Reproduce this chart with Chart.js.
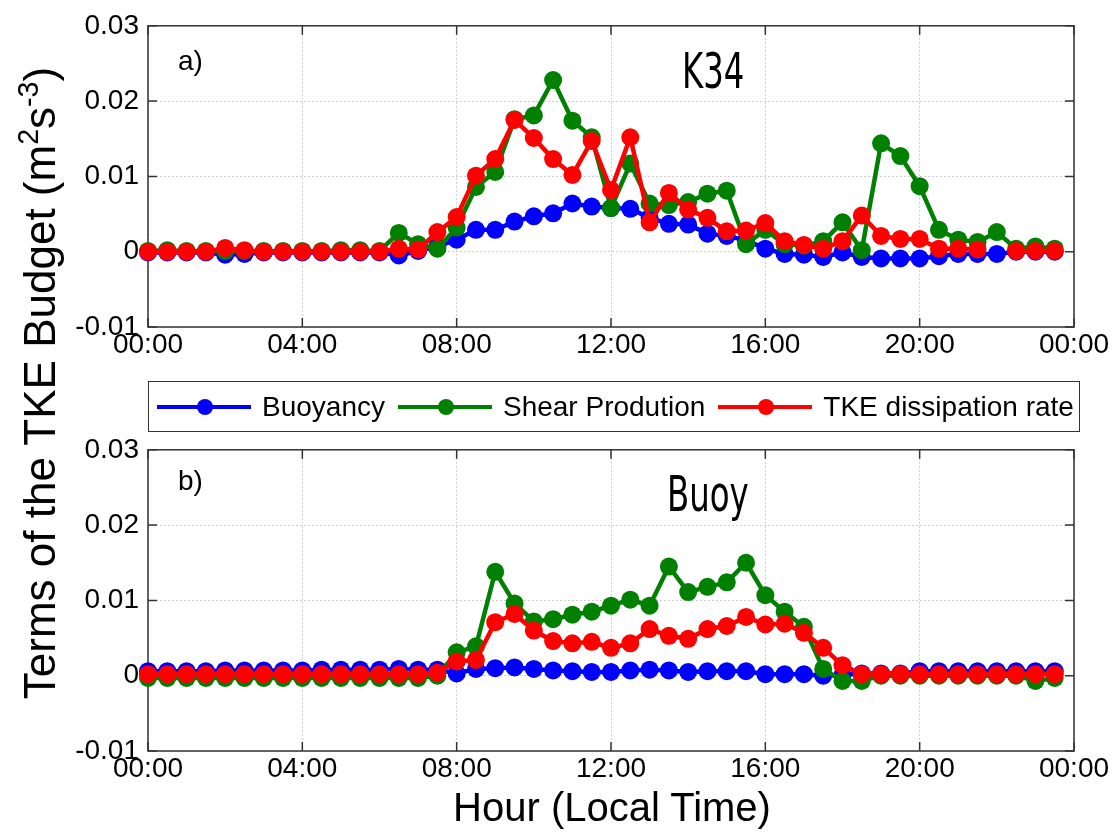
<!DOCTYPE html>
<html>
<head>
<meta charset="utf-8">
<script src="https://cdn.jsdelivr.net/npm/chart.js@4/dist/chart.umd.min.js"></script>
<style>
  body { margin: 0; background: #fff; }
  #page { position: relative; width: 1119px; height: 837px; overflow: hidden; background: #fff; font-family: "Liberation Sans", Arial, sans-serif; color: #000; }
  .wrap { position: absolute; left: 0; width: 1119px; height: 370px; }
  .tag { position: absolute; font-size: 28px; line-height: 28px; }
  .site { position: absolute; font-family: "Liberation Sans Narrow", "DejaVu Sans Condensed", "Liberation Sans", sans-serif; font-size: 50px; line-height: 50px; transform-origin: left top; transform: scaleX(0.72); }
  #ytitle { position: absolute; left: -310px; top: 358px; width: 700px; height: 50px; line-height: 50px; text-align: center; font-size: 44px; transform: rotate(-90deg); white-space: nowrap; }
  #ytitle sup { font-size: 0.65em; vertical-align: 0.6em; line-height: 0; }
  #xtitle { position: absolute; left: 302px; top: 784px; width: 620px; text-align: center; font-size: 40px; line-height: 46px; }
  #legend { position: absolute; left: 148px; top: 381px; width: 932px; height: 51px; border: 1.5px solid #333; box-sizing: border-box; display: flex; align-items: center; font-size: 28px; }
  .item { display: flex; align-items: center; margin-left: 13px; }
  .item:first-child { margin-left: 8px; }
  .sample { position: relative; width: 94px; height: 4px; margin-right: 11px; }
  .sample i { position: absolute; left: 40px; top: -6px; width: 16px; height: 16px; border-radius: 50%; }
</style>
</head>
<body>
<div id="page">
  <div class="wrap" style="top:0"><canvas id="chartA" width="1119" height="370"></canvas></div>
  <div class="wrap" style="top:424px"><canvas id="chartB" width="1119" height="370"></canvas></div>

  <div class="tag" style="left:178px;top:47px">a)</div>
  <div class="site" style="left:682px;top:46px">K34</div>
  <div class="tag" style="left:178px;top:467px">b)</div>
  <div class="site" style="left:667px;top:469px">Buoy</div>

  <div id="legend">
    <div class="item"><span class="sample" style="background:#0000ff"><i style="background:#0000ff"></i></span>Buoyancy</div>
    <div class="item"><span class="sample" style="background:#008000"><i style="background:#008000"></i></span>Shear Prodution</div>
    <div class="item"><span class="sample" style="background:#ff0000"><i style="background:#ff0000"></i></span>TKE dissipation rate</div>
  </div>

  <div id="ytitle">Terms of the TKE Budget (m<sup>2</sup>s<sup>-3</sup>)</div>
  <div id="xtitle">Hour (Local Time)</div>
</div>

<script>
const hours = [0, 0.5, 1, 1.5, 2, 2.5, 3, 3.5, 4, 4.5, 5, 5.5, 6, 6.5, 7, 7.5,
    8, 8.5, 9, 9.5, 10, 10.5, 11, 11.5, 12, 12.5, 13, 13.5, 14, 14.5, 15, 15.5,
    16, 16.5, 17, 17.5, 18, 18.5, 19, 19.5, 20, 20.5, 21, 21.5, 22, 22.5, 23, 23.5]

const xTickLabels = ['00:00', '04:00', '08:00', '12:00', '16:00', '20:00', '00:00']
const yTickLabels = ['-0.01', '0', '0.01', '0.02', '0.03']

// a) K34
const buoyancyK34 = [-0.0001, -0.0001, -0.0001, -0.0001, -0.0004, -0.0003, -0.0001, -0.0001,
    -0.0001, -0.0001, -0.0001, -0.0001, -0.0001, -0.0005, 0.0001, 0.0007,
    0.0016, 0.0029, 0.0029, 0.0040, 0.0047, 0.0051, 0.0064, 0.0060,
    0.0058, 0.0057, 0.0045, 0.0037, 0.0036, 0.0024, 0.0021, 0.0015,
    0.0004, -0.0003, -0.0004, -0.0007, -0.0001, -0.0007, -0.0009, -0.0009,
    -0.0009, -0.0006, -0.0003, -0.0003, -0.0003, 0.0000, 0.0000, 0.0000]
const shearK34 = [0.0001, 0.0002, 0.0001, 0.0001, 0.0001, 0.0001, 0.0001, 0.0001,
    0.0001, 0.0001, 0.0002, 0.0002, 0.0001, 0.0025, 0.0010, 0.0004,
    0.0032, 0.0086, 0.0106, 0.0176, 0.0181, 0.0228, 0.0174, 0.0152,
    0.0058, 0.0117, 0.0064, 0.0062, 0.0066, 0.0077, 0.0081, 0.0010,
    0.0029, 0.0010, 0.0008, 0.0014, 0.0039, 0.0002, 0.0144, 0.0127,
    0.0087, 0.0029, 0.0016, 0.0013, 0.0026, 0.0004, 0.0007, 0.0004]
const dissipationK34 = [0.0000, 0.0000, 0.0000, 0.0000, 0.0005, 0.0002, 0.0000, 0.0000,
    0.0000, 0.0000, 0.0000, 0.0000, 0.0000, 0.0004, 0.0003, 0.0026,
    0.0046, 0.0101, 0.0123, 0.0175, 0.0151, 0.0123, 0.0102, 0.0147,
    0.0082, 0.0152, 0.0039, 0.0078, 0.0056, 0.0045, 0.0027, 0.0028,
    0.0038, 0.0014, 0.0009, 0.0004, 0.0014, 0.0048, 0.0021, 0.0017,
    0.0017, 0.0004, 0.0004, 0.0003, null, 0.0001, 0.0001, 0.0001]

// b) Buoy
const buoyancyBuoy = [0.0006, 0.0006, 0.0006, 0.0006, 0.0007, 0.0007, 0.0007, 0.0007,
    0.0007, 0.0008, 0.0008, 0.0008, 0.0008, 0.0009, 0.0008, 0.0008,
    0.0003, 0.0009, 0.0010, 0.0011, 0.0009, 0.0007, 0.0006, 0.0005,
    0.0005, 0.0007, 0.0008, 0.0007, 0.0005, 0.0006, 0.0006, 0.0006,
    0.0002, 0.0002, 0.0002, 0.0000, 0.0001, 0.0003, 0.0003, 0.0003,
    0.0006, 0.0006, 0.0006, 0.0006, 0.0006, 0.0006, 0.0006, 0.0006]
const shearBuoy = [-0.0003, -0.0003, -0.0003, -0.0003, -0.0003, -0.0003, -0.0003, -0.0003,
    -0.0003, -0.0003, -0.0003, -0.0003, -0.0003, -0.0003, -0.0003, 0.0000,
    0.0031, 0.0039, 0.0138, 0.0096, 0.0072, 0.0075, 0.0081, 0.0085,
    0.0093, 0.0101, 0.0093, 0.0145, 0.0111, 0.0118, 0.0124, 0.0150,
    0.0107, 0.0085, 0.0065, 0.0009, -0.0007, -0.0007, 0.0000, 0.0000,
    0.0000, 0.0000, 0.0000, 0.0000, 0.0000, 0.0000, -0.0007, -0.0003]
const dissipationBuoy = [0.0002, 0.0002, 0.0002, 0.0002, 0.0002, 0.0002, 0.0002, 0.0002,
    0.0002, 0.0002, 0.0002, 0.0002, 0.0002, 0.0002, 0.0002, 0.0004,
    0.0019, 0.0021, 0.0071, 0.0082, 0.0060, 0.0046, 0.0043, 0.0045,
    0.0037, 0.0043, 0.0062, 0.0053, 0.0049, 0.0062, 0.0066, 0.0078,
    0.0068, 0.0069, 0.0057, 0.0037, 0.0014, 0.0002, 0.0002, 0.0002,
    0.0002, 0.0002, 0.0002, 0.0002, 0.0002, 0.0002, 0.0002, 0.0002]

const BLUE = '#0000ff'
const GREEN = '#008000'
const RED = '#ff0000'
const FONT = '"Liberation Sans", Arial, sans-serif'

// matlab style box with inward ticks, drawn under the lines
const boxPlugin = {
    id: 'box',
    beforeDatasetsDraw(chart) {
        const { ctx, chartArea: a, scales } = chart
        ctx.save()
        ctx.strokeStyle = '#333'
        ctx.lineWidth = 1.5
        ctx.strokeRect(a.left, a.top, a.right - a.left, a.bottom - a.top)
        ctx.beginPath()
        scales.x.ticks.forEach(t => {
            const x = scales.x.getPixelForValue(t.value)
            ctx.moveTo(x, a.bottom); ctx.lineTo(x, a.bottom - 9)
            ctx.moveTo(x, a.top); ctx.lineTo(x, a.top + 9)
        })
        scales.y.ticks.forEach(t => {
            const y = scales.y.getPixelForValue(t.value)
            ctx.moveTo(a.left, y); ctx.lineTo(a.left + 9, y)
            ctx.moveTo(a.right, y); ctx.lineTo(a.right - 9, y)
        })
        ctx.stroke()
        ctx.restore()
    }
}

function series(label, values, color, order) {
    return {
        label,
        data: values.map((v, i) => ({ x: hours[i], y: v })),
        borderColor: color,
        backgroundColor: color,
        borderWidth: 4.5,
        pointRadius: 9,
        pointBorderWidth: 0,
        pointBackgroundColor: color,
        spanGaps: false,
        clip: false,
        order
    }
}

function makePanel(id, buoyancy, shear, dissipation) {
    return new Chart(document.getElementById(id), {
        type: 'line',
        data: {
            datasets: [
                series('Buoyancy', buoyancy, BLUE, 3),
                series('Shear Prodution', shear, GREEN, 2),
                series('TKE dissipation rate', dissipation, RED, 1)
            ]
        },
        options: {
            responsive: false,
            animation: false,
            events: [],
            layout: { padding: { top: 22, right: 45, left: 0, bottom: 0 } },
            plugins: { legend: { display: false }, tooltip: { enabled: false } },
            scales: {
                x: {
                    type: 'linear', min: 0, max: 24,
                    afterFit: s => { s.height = 43 },
                    ticks: {
                        stepSize: 4, autoSkip: false, maxRotation: 0, padding: 1,
                        color: '#000', font: { family: FONT, size: 28 },
                        callback: (v, i) => xTickLabels[i]
                    },
                    grid: { color: '#cfcfcf', drawTicks: false },
                    border: { display: false, dash: [2, 2] }
                },
                y: {
                    min: -0.01, max: 0.03,
                    afterFit: s => { s.width = 148 },
                    ticks: {
                        stepSize: 0.01, padding: 9,
                        color: '#000', font: { family: FONT, size: 28 },
                        callback: (v, i) => yTickLabels[i]
                    },
                    grid: { color: '#cfcfcf', drawTicks: false },
                    border: { display: false, dash: [2, 2] }
                }
            }
        },
        plugins: [boxPlugin]
    })
}

makePanel('chartA', buoyancyK34, shearK34, dissipationK34)
makePanel('chartB', buoyancyBuoy, shearBuoy, dissipationBuoy)
</script>
</body>
</html>
